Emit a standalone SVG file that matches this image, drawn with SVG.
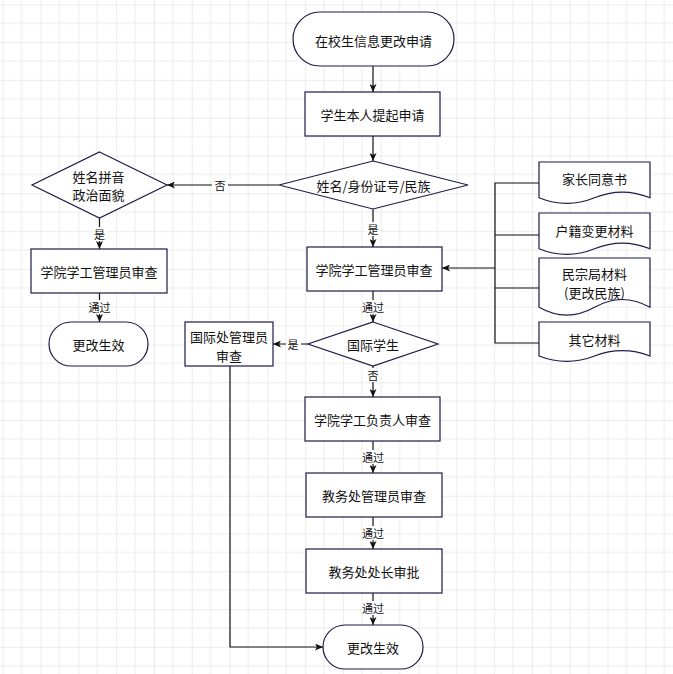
<svg xmlns="http://www.w3.org/2000/svg" width="673" height="674" viewBox="0 0 673 674">
  <defs>
    <pattern id="grid" patternUnits="userSpaceOnUse" x="2.7" y="4.3" width="37.8" height="37.8">
      <path d="M18.9,0 V37.8 M0,18.9 H37.8" stroke="#ececec" stroke-width="1" fill="none"/>
      <path d="M0,0 V37.8 M0,0 H37.8" stroke="#d9d9d9" stroke-width="1" fill="none"/>
    </pattern>
    <marker id="arr" viewBox="0 0 8 7" refX="8" refY="3.5" markerWidth="8" markerHeight="7" markerUnits="userSpaceOnUse" orient="auto">
      <path d="M0,0 L8,3.5 L0,7 L2,3.5 z" fill="#111"/>
    </marker>
    <style>
      .n { fill: #ffffff; stroke: #1c1c4a; stroke-width: 1.2; }
      .t { font-family: "Noto Sans CJK SC", "Noto Sans", sans-serif; font-size: 13px; fill: #111; text-anchor: middle; dominant-baseline: central; }
      .l { font-family: "Noto Sans CJK SC", "Noto Sans", sans-serif; font-size: 11px; fill: #111; text-anchor: middle; dominant-baseline: central; }
      .e { fill: none; stroke: #111; stroke-width: 1.2; }
      .a { marker-end: url(#arr); }
      .lb { fill: #ffffff; }
    </style>
  </defs>
  <rect x="0" y="0" width="673" height="674" fill="#ffffff"/>
  <rect x="0" y="0" width="673" height="674" fill="url(#grid)"/>

  <g id="connectors">
    <path class="e a" d="M373,66 V92"/>
    <path class="e a" d="M373,136 V161"/>
    <path class="e a" d="M279,185 H167"/>
    <path class="e a" d="M99.5,218 V249"/>
    <path class="e a" d="M99.5,293 V322"/>
    <path class="e a" d="M373,209 V247"/>
    <path class="e a" d="M373,291 V322"/>
    <path class="e a" d="M308,344 H273"/>
    <path class="e a" d="M373,366 V397"/>
    <path class="e a" d="M373,441 V473"/>
    <path class="e a" d="M373,517 V549"/>
    <path class="e a" d="M373,593 V625"/>
    <path class="e a" d="M230,366 V647 H323"/>
    <path class="e" d="M539,183 H495 V343 H539 M495,235 H539 M495,288 H539"/>
    <path class="e a" d="M495,268 H442"/>

    <rect class="lb" x="212" y="178" width="16" height="14"/>
    <text class="l" x="220" y="185">否</text>
    <rect class="lb" x="92" y="227" width="15" height="14"/>
    <text class="l" x="99.5" y="234">是</text>
    <rect class="lb" x="88" y="300" width="23" height="14"/>
    <text class="l" x="99.5" y="307">通过</text>
    <rect class="lb" x="366" y="222" width="15" height="14"/>
    <text class="l" x="373" y="229">是</text>
    <rect class="lb" x="362" y="300" width="23" height="14"/>
    <text class="l" x="373" y="307">通过</text>
    <rect class="lb" x="286" y="337" width="15" height="14"/>
    <text class="l" x="293" y="344">是</text>
    <rect class="lb" x="366" y="368" width="15" height="14"/>
    <text class="l" x="373" y="375">否</text>
    <rect class="lb" x="362" y="450" width="23" height="14"/>
    <text class="l" x="373" y="457">通过</text>
    <rect class="lb" x="362" y="526" width="23" height="14"/>
    <text class="l" x="373" y="533">通过</text>
    <rect class="lb" x="362" y="601" width="23" height="14"/>
    <text class="l" x="373" y="608">通过</text>
  </g>

  <g id="start">
    <rect class="n" x="293" y="12" width="161" height="54" rx="27" ry="27"/>
    <text class="t" x="373.5" y="40">在校生信息更改申请</text>
  </g>
  <g id="apply">
    <rect class="n" x="305" y="92" width="135" height="44"/>
    <text class="t" x="372.5" y="114">学生本人提起申请</text>
  </g>
  <g id="decision-main">
    <polygon class="n" points="373,161 468,185 373,209 279,185"/>
    <text class="t" x="373.5" y="185">姓名/身份证号/民族</text>
  </g>
  <g id="decision-left">
    <polygon class="n" points="99.5,152 167,185 99.5,218 32,185"/>
    <text class="t" x="98.5" y="176.5">姓名拼音</text>
    <text class="t" x="98.5" y="194">政治面貌</text>
  </g>
  <g id="review-left">
    <rect class="n" x="31" y="249" width="136" height="44"/>
    <text class="t" x="99" y="271">学院学工管理员审查</text>
  </g>
  <g id="effect-left">
    <rect class="n" x="49" y="322" width="99" height="44" rx="22" ry="22"/>
    <text class="t" x="98.5" y="344">更改生效</text>
  </g>
  <g id="review-main">
    <rect class="n" x="307" y="247" width="135" height="44"/>
    <text class="t" x="374" y="269">学院学工管理员审查</text>
  </g>
  <g id="decision-intl">
    <polygon class="n" points="373,322 438,344 373,366 308,344"/>
    <text class="t" x="373" y="344">国际学生</text>
  </g>
  <g id="intl-office">
    <rect class="n" x="185" y="322" width="88" height="44"/>
    <text class="t" x="229" y="336.5">国际处管理员</text>
    <text class="t" x="229" y="355.5">审查</text>
  </g>
  <g id="head-review">
    <rect class="n" x="305" y="397" width="135" height="44"/>
    <text class="t" x="372.5" y="419">学院学工负责人审查</text>
  </g>
  <g id="academic-admin">
    <rect class="n" x="306" y="473" width="136" height="44"/>
    <text class="t" x="374" y="495">教务处管理员审查</text>
  </g>
  <g id="academic-head">
    <rect class="n" x="306" y="549" width="136" height="44"/>
    <text class="t" x="374" y="571">教务处处长审批</text>
  </g>
  <g id="effect-main">
    <rect class="n" x="323" y="625" width="100" height="44" rx="22" ry="22"/>
    <text class="t" x="373" y="647">更改生效</text>
  </g>

  <g id="doc-parent">
    <path class="n" d="M539,162 H650 V197.7 Q622.25,186.4 594.5,197.7 Q566.75,209 539,197.7 Z"/>
    <text class="t" x="594.5" y="178">家长同意书</text>
  </g>
  <g id="doc-household">
    <path class="n" d="M539,213 H650 V248.7 Q622.25,237.4 594.5,248.7 Q566.75,260 539,248.7 Z"/>
    <text class="t" x="594.5" y="230">户籍变更材料</text>
  </g>
  <g id="doc-ethnic">
    <path class="n" d="M539,258 H650 V307.3 Q622.25,291.7 594.5,307.3 Q566.75,322.9 539,307.3 Z"/>
    <text class="t" x="594.5" y="273">民宗局材料</text>
    <text class="t" x="594.5" y="292">(更改民族)</text>
  </g>
  <g id="doc-other">
    <path class="n" d="M539,322 H650 V356 Q622.25,345.2 594.5,356 Q566.75,366.8 539,356 Z"/>
    <text class="t" x="594.5" y="339">其它材料</text>
  </g>
</svg>
